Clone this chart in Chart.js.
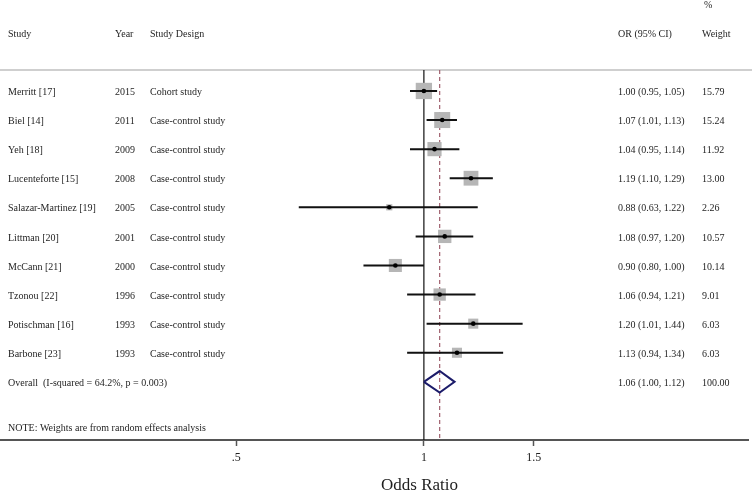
<!DOCTYPE html>
<html>
<head>
<meta charset="utf-8">
<script src="https://cdn.jsdelivr.net/npm/chart.js@4/dist/chart.umd.min.js"></script>
<style>
  html, body { margin: 0; padding: 0; background: #ffffff; }
  #wrap { width: 752px; height: 498px; position: relative; }
</style>
</head>
<body>
<div id="wrap"><canvas id="c" width="752" height="498"></canvas></div>
<script>
// ---- data ----
const studies = ['Merritt [17]', 'Biel [14]', 'Yeh [18]', 'Lucenteforte [15]', 'Salazar-Martinez [19]',
                 'Littman [20]', 'McCann [21]', 'Tzonou [22]', 'Potischman [16]', 'Barbone [23]'];
const years = ['2015', '2011', '2009', '2008', '2005', '2001', '2000', '1996', '1993', '1993'];
const designs = ['Cohort study', 'Case-control study', 'Case-control study', 'Case-control study',
                 'Case-control study', 'Case-control study', 'Case-control study', 'Case-control study',
                 'Case-control study', 'Case-control study'];
const oddsRatios = [1.00, 1.07, 1.04, 1.19, 0.88, 1.08, 0.90, 1.06, 1.20, 1.13];
const ciLower   = [0.95, 1.01, 0.95, 1.10, 0.63, 0.97, 0.80, 0.94, 1.01, 0.94];
const ciUpper   = [1.05, 1.13, 1.14, 1.29, 1.22, 1.20, 1.00, 1.21, 1.44, 1.34];
const weights   = [15.79, 15.24, 11.92, 13.00, 2.26, 10.57, 10.14, 9.01, 6.03, 6.03];
const overallOR = 1.06, overallLo = 1.00, overallHi = 1.12;
const overallLabel = 'Overall  (I-squared = 64.2%, p = 0.003)';
const noteLabel = 'NOTE: Weights are from random effects analysis';
const tickValues = [0.5, 1, 1.5];
const tickLabels = ['.5', '1', '1.5'];
const xTitle = 'Odds Ratio';

// ---- derived structures ----
const rowOf = i => i + 1;
const overallRow = studies.length + 1;
const noteRow = overallRow + 1.55;
const headerRow = -1;
const headerLineRow = 0.278;
const axisRow = 13;

const fmt = v => v.toFixed(2);
const ciText = studies.map((s, i) => `${fmt(oddsRatios[i])} (${fmt(ciLower[i])}, ${fmt(ciUpper[i])})`);
const wText = weights.map(w => w.toFixed(2));

const squarePts = oddsRatios.map((v, i) => ({ x: v, y: rowOf(i) }));
const ciPts = [];
oddsRatios.forEach((v, i) => {
  ciPts.push({ x: ciLower[i], y: rowOf(i) }, { x: ciUpper[i], y: rowOf(i) }, { x: null, y: null });
});
const dh = 0.37;
const diamondPts = [
  { x: overallLo, y: overallRow }, { x: overallOR, y: overallRow - dh },
  { x: overallHi, y: overallRow }, { x: overallOR, y: overallRow + dh },
  { x: overallLo, y: overallRow }
];

const FONT = '"Liberation Serif", "Times New Roman", serif';

const textPlugin = {
  id: 'forestText',
  beforeDatasetsDraw(chart) {
    const ctx = chart.ctx, ys = chart.scales.y;
    ctx.save();
    ctx.strokeStyle = '#cfcfcf';
    ctx.lineWidth = 2;
    const yl = ys.getPixelForValue(headerLineRow);
    ctx.beginPath(); ctx.moveTo(0, yl); ctx.lineTo(chart.width, yl); ctx.stroke();
    ctx.restore();
  },
  afterDraw(chart) {
    const ctx = chart.ctx, ys = chart.scales.y;
    ctx.save();
    ctx.fillStyle = '#1e1e1e';
    ctx.font = '10px ' + FONT;
    ctx.textBaseline = 'middle';
    ctx.textAlign = 'left';
    const put = (t, x, row) => ctx.fillText(t, x, ys.getPixelForValue(row) + 1.5);
    put('Study', 8, headerRow); put('Year', 115, headerRow); put('Study Design', 150, headerRow);
    put('OR (95% CI)', 618, headerRow); put('Weight', 702, headerRow); put('%', 704, headerRow - 1);
    studies.forEach((s, i) => {
      const r = rowOf(i);
      put(s, 8, r); put(years[i], 115, r); put(designs[i], 150, r);
      put(ciText[i], 618, r); put(wText[i], 702, r);
    });
    put(overallLabel, 8, overallRow);
    put(`${fmt(overallOR)} (${fmt(overallLo)}, ${fmt(overallHi)})`, 618, overallRow);
    put('100.00', 702, overallRow);
    put(noteLabel, 8, noteRow);
    ctx.font = '17px ' + FONT;
    ctx.textBaseline = 'alphabetic';
    ctx.fillText(xTitle, 381, 490);
    ctx.restore();
  }
};

new Chart(document.getElementById('c'), {
  type: 'scatter',
  data: {
    datasets: [
      { // centre dots
        data: squarePts, pointStyle: 'circle', pointRadius: 2.3, pointBackgroundColor: '#000',
        pointBorderWidth: 0, order: 0
      },
      { // confidence intervals
        data: ciPts, showLine: true, spanGaps: false, borderColor: '#111', borderWidth: 2,
        pointRadius: 0, order: 1
      },
      { // weight squares
        data: squarePts, pointStyle: 'rect', pointBackgroundColor: '#b6b6b6', pointBorderWidth: 0,
        pointRadius: ctx => 2.9 * Math.sqrt(weights[ctx.dataIndex] || 0), order: 2
      },
      { // overall diamond
        data: diamondPts, showLine: true, borderColor: '#1c1c6a', borderWidth: 2, pointRadius: 0,
        order: 2
      },
      { // null line at OR = 1
        data: [{ x: 1, y: headerLineRow }, { x: 1, y: axisRow }], showLine: true,
        borderColor: '#111', borderWidth: 1.2, pointRadius: 0, order: 3
      },
      { // overall estimate dashed line
        data: [{ x: overallOR, y: headerLineRow }, { x: overallOR, y: axisRow }], showLine: true,
        borderColor: '#a0606e', borderWidth: 1.2, borderDash: [4, 3], pointRadius: 0, order: 3
      }
    ]
  },
  options: {
    responsive: false,
    animation: false,
    events: [],
    layout: { autoPadding: false, padding: { left: 0, right: 4, top: 0, bottom: 0 } },
    plugins: { legend: { display: false }, tooltip: { enabled: false }, title: { display: false } },
    scales: {
      x: {
        type: 'logarithmic',
        min: 0.209, max: 3.31,
        afterBuildTicks: s => { s.ticks = tickValues.map(v => ({ value: v })); },
        afterFit: s => { s.height = 58; },
        ticks: {
          callback: (v, i) => tickLabels[i],
          autoSkip: false, maxRotation: 0, minRotation: 0,
          color: '#222', padding: 5,
          font: { family: FONT, size: 12 }
        },
        grid: { drawOnChartArea: false, drawTicks: true, tickLength: 6, tickColor: '#555', tickWidth: 1.5 },
        border: { display: true, color: '#555', width: 2 }
      },
      y: {
        type: 'linear', reverse: true, min: -2.127, max: axisRow, display: false
      }
    }
  },
  plugins: [textPlugin]
});
</script>
</body>
</html>
